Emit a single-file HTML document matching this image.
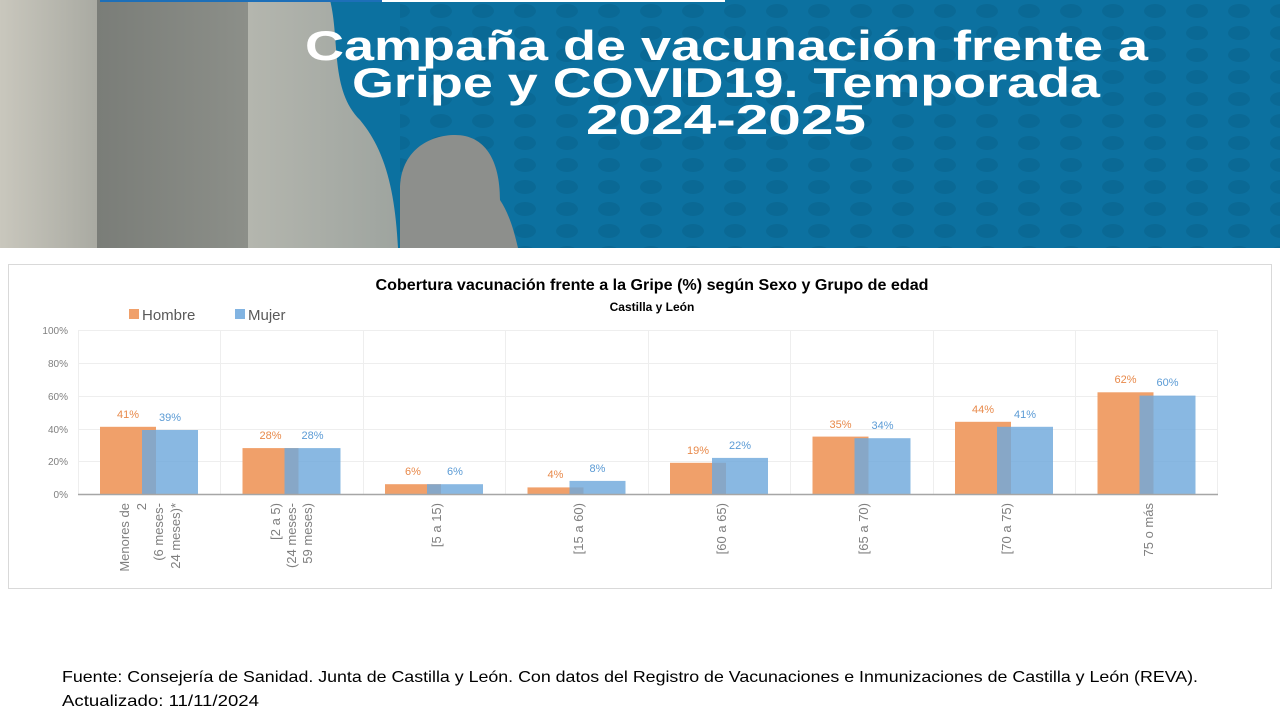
<!DOCTYPE html>
<html><head><meta charset="utf-8"><style>
body{margin:0;width:1280px;height:720px;background:#fff;overflow:hidden;font-family:"Liberation Sans",sans-serif}
</style></head><body>
<svg width="1280" height="720" xmlns="http://www.w3.org/2000/svg" font-family="Liberation Sans, sans-serif">
<defs>
<pattern id="dots" width="42" height="22" patternUnits="userSpaceOnUse"><ellipse cx="21" cy="11" rx="11" ry="7" fill="#0a6995"/></pattern>
<linearGradient id="p1" x1="0" x2="1"><stop offset="0" stop-color="#c9c7bd"/><stop offset="1" stop-color="#a9aaa2"/></linearGradient>
<linearGradient id="p2" x1="0" x2="1"><stop offset="0" stop-color="#7a7d78"/><stop offset="1" stop-color="#8c8f89"/></linearGradient>
<linearGradient id="p3" x1="0" x2="1"><stop offset="0" stop-color="#b4b6ae"/><stop offset="1" stop-color="#9ea49f"/></linearGradient>
</defs>
<rect x="0" y="0" width="1280" height="248" fill="#0c71a0"/>
<rect x="400" y="0" width="880" height="248" fill="url(#dots)"/>
<rect x="0" y="0" width="97" height="248" fill="url(#p1)"/>
<rect x="97" y="0" width="151" height="248" fill="url(#p2)"/>
<path d="M248 0 H330 C340 40 330 90 360 120 C385 150 395 190 398 248 H248 Z" fill="url(#p3)"/>
<path d="M400 248 V190 C400 150 430 135 455 135 C485 135 500 160 500 200 C510 215 515 235 518 248 Z" fill="#8d8f8c"/>
<rect x="100" y="0" width="282" height="2" fill="#1d6fb8"/>
<rect x="382" y="0" width="343" height="2" fill="#fff"/>
<g font-weight="bold" font-size="42" fill="#fff">
<text x="305" y="60" textLength="843" lengthAdjust="spacingAndGlyphs">Campaña de vacunación frente a</text>
<text x="352" y="97" textLength="748" lengthAdjust="spacingAndGlyphs">Gripe y COVID19. Temporada</text>
<text x="586" y="134" textLength="280" lengthAdjust="spacingAndGlyphs">2024-2025</text>
</g>
<rect x="8.5" y="264.5" width="1263" height="324" fill="#fff" stroke="#d9d9d9"/>
<text x="652" y="290" text-anchor="middle" font-size="16" font-weight="bold" fill="#000" textLength="553" lengthAdjust="spacingAndGlyphs">Cobertura vacunación frente a la Gripe (%) según Sexo y Grupo de edad</text>
<text x="652" y="311" text-anchor="middle" font-size="12" font-weight="bold" fill="#000">Castilla y León</text>
<rect x="129" y="309" width="10" height="10" fill="#f0a06a"/>
<text x="142" y="320" font-size="15" fill="#595959">Hombre</text>
<rect x="235" y="309" width="10" height="10" fill="#82b4e2"/>
<text x="248" y="320" font-size="15" fill="#595959">Mujer</text>
<g stroke="#eeeeee" stroke-width="1">
<line x1="78" x2="1218" y1="330.5" y2="330.5"/><line x1="78" x2="1218" y1="363.5" y2="363.5"/><line x1="78" x2="1218" y1="396.5" y2="396.5"/><line x1="78" x2="1218" y1="429.5" y2="429.5"/><line x1="78" x2="1218" y1="461.5" y2="461.5"/>
<line x1="78.5" x2="78.5" y1="330" y2="494"/><line x1="220.5" x2="220.5" y1="330" y2="494"/><line x1="363.5" x2="363.5" y1="330" y2="494"/><line x1="505.5" x2="505.5" y1="330" y2="494"/><line x1="648.5" x2="648.5" y1="330" y2="494"/><line x1="790.5" x2="790.5" y1="330" y2="494"/><line x1="933.5" x2="933.5" y1="330" y2="494"/><line x1="1075.5" x2="1075.5" y1="330" y2="494"/><line x1="1217.5" x2="1217.5" y1="330" y2="494"/>
</g>
<g font-size="10" fill="#7f7f7f" text-anchor="end">
<text x="68" y="334">100%</text><text x="68" y="367">80%</text><text x="68" y="400">60%</text><text x="68" y="433">40%</text><text x="68" y="465">20%</text><text x="68" y="498">0%</text>
</g>
<g fill="#f0a06a">
<rect x="100" y="426.8" width="56" height="67.2"/>
<rect x="242.5" y="448.1" width="56" height="45.9"/>
<rect x="385" y="484.2" width="56" height="9.8"/>
<rect x="527.5" y="487.4" width="56" height="6.6"/>
<rect x="670" y="462.8" width="56" height="31.2"/>
<rect x="812.5" y="436.6" width="56" height="57.4"/>
<rect x="955" y="421.8" width="56" height="72.2"/>
<rect x="1097.5" y="392.3" width="56" height="101.7"/>
</g>
<g fill="#6fa8dc" fill-opacity="0.82">
<rect x="142" y="430" width="56" height="64"/>
<rect x="284.5" y="448.1" width="56" height="45.9"/>
<rect x="427" y="484.2" width="56" height="9.8"/>
<rect x="569.5" y="480.9" width="56" height="13.1"/>
<rect x="712" y="457.9" width="56" height="36.1"/>
<rect x="854.5" y="438.2" width="56" height="55.8"/>
<rect x="997" y="426.8" width="56" height="67.2"/>
<rect x="1139.5" y="395.6" width="56" height="98.4"/>
</g>
<g font-size="11" fill="#e8894a" text-anchor="middle">
<text x="128" y="418">41%</text><text x="270.5" y="439">28%</text><text x="413" y="475">6%</text><text x="555.5" y="478">4%</text><text x="698" y="454">19%</text><text x="840.5" y="428">35%</text><text x="983" y="413">44%</text><text x="1125.5" y="383">62%</text>
</g>
<g font-size="11" fill="#5b9bd5" text-anchor="middle">
<text x="170" y="421">39%</text><text x="312.5" y="439">28%</text><text x="455" y="475">6%</text><text x="597.5" y="472">8%</text><text x="740" y="449">22%</text><text x="882.5" y="429">34%</text><text x="1025" y="418">41%</text><text x="1167.5" y="386">60%</text>
</g>
<line x1="78" x2="1218" y1="494.5" y2="494.5" stroke="#a6a6a6" stroke-width="1.5"/>
<g font-size="13" fill="#7f7f7f" text-anchor="end">
<text transform="translate(129,503) rotate(-90)">Menores de</text>
<text transform="translate(146,503) rotate(-90)">2</text>
<text transform="translate(163,503) rotate(-90)">(6 meses-</text>
<text transform="translate(180,503) rotate(-90)">24 meses)*</text>
<text transform="translate(280,503) rotate(-90)">[2 a 5)</text>
<text transform="translate(296,503) rotate(-90)">(24 meses-</text>
<text transform="translate(312,503) rotate(-90)">59 meses)</text>
<text transform="translate(441,503) rotate(-90)">[5 a 15)</text>
<text transform="translate(583,503) rotate(-90)">[15 a 60)</text>
<text transform="translate(726,503) rotate(-90)">[60 a 65)</text>
<text transform="translate(868,503) rotate(-90)">[65 a 70)</text>
<text transform="translate(1011,503) rotate(-90)">[70 a 75)</text>
<text transform="translate(1153,503) rotate(-90)">75 o más</text>
</g>
<text x="62" y="682" font-size="16" fill="#000" textLength="1136" lengthAdjust="spacingAndGlyphs">Fuente: Consejería de Sanidad. Junta de Castilla y León. Con datos del Registro de Vacunaciones e Inmunizaciones  de Castilla y León (REVA).</text>
<text x="62" y="706" font-size="16" fill="#000" textLength="197" lengthAdjust="spacingAndGlyphs">Actualizado: 11/11/2024</text>
</svg>
</body></html>
